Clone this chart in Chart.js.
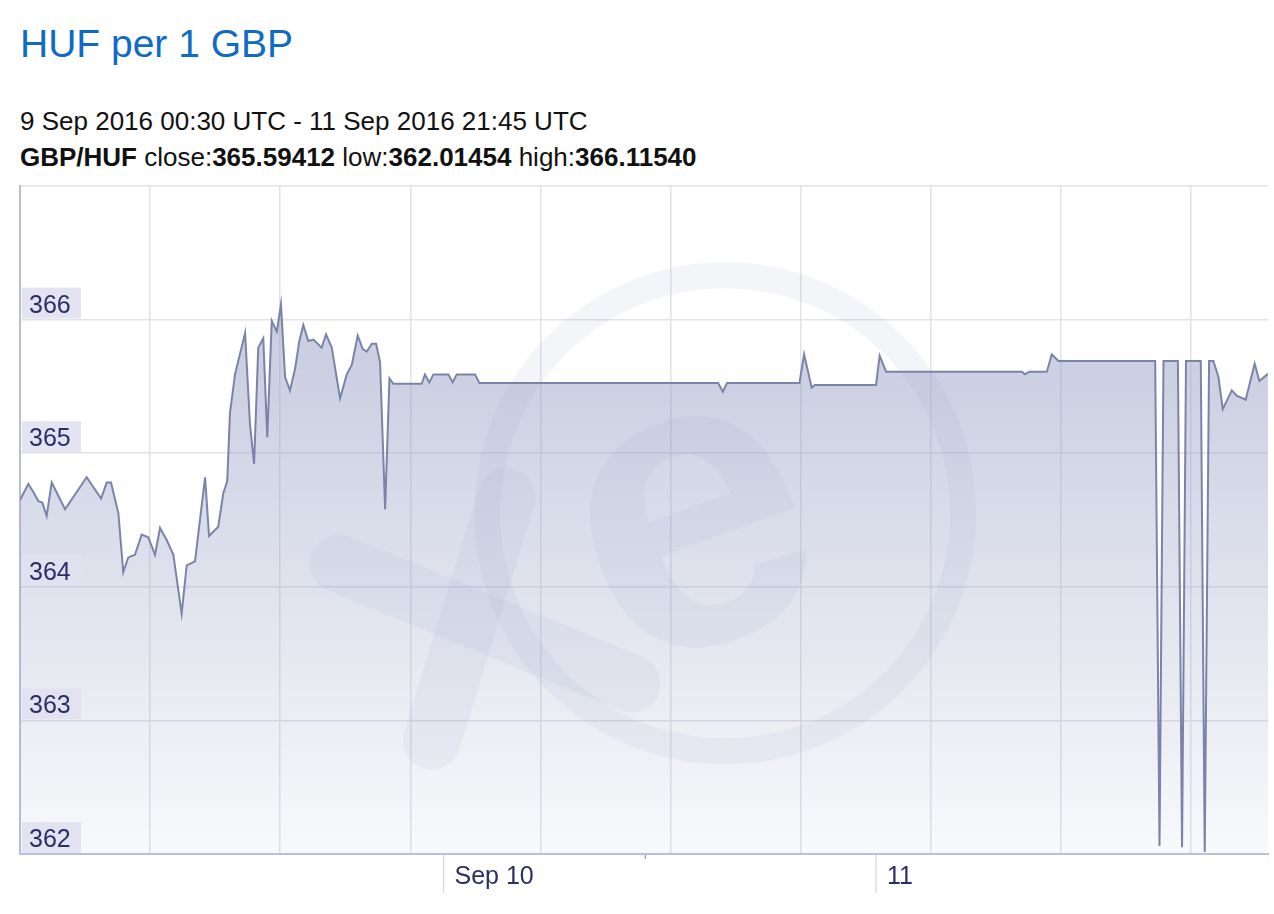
<!DOCTYPE html>
<html>
<head>
<meta charset="utf-8">
<title>HUF per 1 GBP</title>
<script src="https://cdn.jsdelivr.net/npm/chart.js@4.4.1/dist/chart.umd.min.js"></script>
<style>
  body { margin: 0; background: #fff; font-family: "Liberation Sans", Arial, Helvetica, sans-serif; }
  .txt { position: absolute; left: 20px; line-height: 1; white-space: nowrap; }
  #title { top: 24px; font-size: 39px; color: #0f6cc4; }
  #range { top: 108px; font-size: 26px; color: #111; }
  #stats { top: 144px; font-size: 26px; color: #111; }
  #wrap { position: absolute; left: 0; top: 180px; width: 1274px; height: 734px; }
</style>
</head>
<body>
<div id="title" class="txt">HUF per 1 GBP</div>
<div id="range" class="txt">9 Sep 2016 00:30 UTC - 11 Sep 2016 21:45 UTC</div>
<div id="stats" class="txt"><b>GBP/HUF</b> close:<b>365.59412</b> low:<b>362.01454</b> high:<b>366.11540</b></div>
<div id="wrap"><canvas id="myChart"></canvas></div>

<script>
// hours since 9 Sep 2016 00:00 UTC
const hours = [
  0.5, 0.96, 1.24, 1.52, 1.74, 1.98, 2.26, 3.0, 4.2, 5.0,
  5.31, 5.55, 5.96, 6.23, 6.51, 6.88, 7.25, 7.62, 7.99, 8.27,
  8.64, 9.01, 9.47, 9.75, 10.21, 10.77, 10.99, 11.5, 11.78, 12.0,
  12.15, 12.43, 12.99, 13.26, 13.49, 13.72, 14.0, 14.22, 14.47, 14.75,
  14.98, 15.21, 15.48, 15.76, 16.0, 16.22, 16.5, 16.78, 17.24, 17.48,
  17.8, 18.26, 18.63, 18.91, 19.24, 19.52, 19.74, 20.02, 20.26, 20.48,
  20.76, 21.0, 21.22, 22.79, 22.97, 23.21, 23.44, 24.27, 24.51, 24.73,
  25.75, 25.99, 39.24, 39.5, 39.73, 43.75, 44.01, 44.43, 44.6, 48.0,
  48.2, 48.56, 56.09, 56.27, 56.5, 57.48, 57.75, 58.12, 63.49, 63.73,
  63.95, 64.75, 64.98, 65.2, 66.02, 66.24, 66.48, 66.72, 67.0, 67.24,
  67.74, 68.02, 68.51, 69.01, 69.27, 69.75
];
const rates = [
  364.65, 364.77, 364.71, 364.64, 364.63, 364.53, 364.78, 364.58, 364.82, 364.66,
  364.78, 364.78, 364.55, 364.11, 364.22, 364.24, 364.39, 364.37, 364.24, 364.44,
  364.35, 364.24, 363.80, 364.16, 364.19, 364.82, 364.38, 364.45, 364.70, 364.79,
  365.30, 365.59, 365.90, 365.22, 364.92, 365.79, 365.86, 365.12, 365.99, 365.91,
  366.115, 365.57, 365.47, 365.63, 365.84, 365.96, 365.84, 365.85, 365.79, 365.89,
  365.79, 365.41, 365.59, 365.66, 365.88, 365.78, 365.76, 365.82, 365.82, 365.68,
  364.58, 365.56, 365.52, 365.52, 365.59, 365.53, 365.59, 365.59, 365.53, 365.59,
  365.59, 365.525, 365.525, 365.46, 365.525, 365.525, 365.74, 365.49, 365.51, 365.51,
  365.73, 365.61, 365.61, 365.59, 365.61, 365.61, 365.74, 365.69, 365.69, 362.06,
  365.69, 365.69, 362.05, 365.69, 365.69, 362.015, 365.69, 365.69, 365.57, 365.33,
  365.47, 365.43, 365.40, 365.67, 365.54, 365.594
];

const xTickHours = [24, 48];
const xTickLabels = ['Sep 10', '11'];
const minorTickHour = 35.2;
const yTicks = [362, 363, 364, 365, 366];
const xMin = 0.5, xMax = 69.75;
const yMin = 362, yMax = 367;
const gridCount = 10;
const gridStep = 7.22;

const navy = '#2b2f66';
const font = '"Liberation Sans", Arial, Helvetica, sans-serif';

const decor = {
  id: 'decor',
  beforeDatasetsDraw(chart) {
    // faint xe watermark
    const {ctx, chartArea: a} = chart;
    const w = a.right - a.left, h = a.bottom - a.top;
    ctx.save();
    ctx.strokeStyle = 'rgba(150,158,195,0.10)';
    ctx.lineWidth = 26;
    ctx.beginPath();
    ctx.arc(a.left + w * 0.565, a.top + h * 0.49, 238, 0, Math.PI * 2);
    ctx.stroke();
    ctx.fillStyle = 'rgba(150,158,195,0.10)';
    ctx.lineCap = 'round';
    ctx.lineWidth = 58;
    ctx.beginPath();
    ctx.moveTo(a.left + w * 0.255, a.top + h * 0.565);
    ctx.lineTo(a.left + w * 0.49, a.top + h * 0.745);
    ctx.stroke();
    ctx.beginPath();
    ctx.moveTo(a.left + w * 0.39, a.top + h * 0.465);
    ctx.lineTo(a.left + w * 0.33, a.top + h * 0.83);
    ctx.stroke();
    ctx.translate(a.left + w * 0.545, a.top + h * 0.54);
    ctx.rotate(-0.35);
    ctx.font = 'bold 420px ' + font;
    ctx.textAlign = 'center';
    ctx.textBaseline = 'middle';
    ctx.fillText('e', 0, -20);
    ctx.restore();
  },
  afterDatasetsDraw(chart) {
    const {ctx, chartArea: a, scales} = chart;
    ctx.save();
    // y labels sitting on their grid lines
    ctx.font = '25px ' + font;
    ctx.textBaseline = 'alphabetic';
    ctx.textAlign = 'left';
    yTicks.forEach(v => {
      const py = scales.y.getPixelForValue(v);
      ctx.fillStyle = 'rgba(226,226,240,0.95)';
      ctx.fillRect(a.left + 2, py - 32, 59, 31);
      ctx.fillStyle = navy;
      ctx.fillText(String(v), a.left + 9, py - 7);
    });
    // long ticks below the axis
    ctx.strokeStyle = '#dcdce4';
    ctx.lineWidth = 1.5;
    xTickHours.forEach(v => {
      const px = scales.x.getPixelForValue(v);
      ctx.beginPath();
      ctx.moveTo(px, a.bottom + 1);
      ctx.lineTo(px, a.bottom + 39);
      ctx.stroke();
    });
    const mx = scales.x.getPixelForValue(minorTickHour);
    ctx.strokeStyle = '#9ea3c4';
    ctx.beginPath();
    ctx.moveTo(mx, a.bottom + 1);
    ctx.lineTo(mx, a.bottom + 5);
    ctx.stroke();
    ctx.restore();
  }
};

function fillGradient(context) {
  const area = context.chart.chartArea;
  if (!area) return 'rgba(150,158,195,0.4)';
  const g = context.chart.ctx.createLinearGradient(0, area.top, 0, area.bottom);
  g.addColorStop(0, 'rgba(150,158,195,0.55)');
  g.addColorStop(0.3, 'rgba(150,158,195,0.48)');
  g.addColorStop(1, 'rgba(150,158,195,0.06)');
  return g;
}

function initChart() {
  const ctx = document.getElementById('myChart');
  return new Chart(ctx, {
    type: 'line',
    data: {
      datasets: [{
        label: 'GBP/HUF',
        data: hours.map((h, i) => ({x: h, y: rates[i]})),
        borderColor: '#7a84ab',
        borderWidth: 2,
        backgroundColor: fillGradient,
        fill: 'start',
        pointRadius: 0,
        tension: 0
      }]
    },
    plugins: [decor],
    options: {
      responsive: true,
      maintainAspectRatio: false,
      animation: false,
      layout: { autoPadding: false, padding: { left: 20, right: 6, top: 6, bottom: 0 } },
      plugins: { legend: { display: false }, tooltip: { enabled: false } },
      scales: {
        x: {
          type: 'linear',
          position: 'bottom',
          min: xMin,
          max: xMax,
          afterBuildTicks: s => { s.ticks = xTickHours.map(v => ({value: v})); },
          afterFit: s => { s.height = 60; },
          ticks: {
            autoSkip: false,
            maxRotation: 0,
            align: 'start',
            labelOffset: 11,
            padding: 8,
            color: navy,
            font: { size: 25, family: font },
            callback: v => xTickLabels[xTickHours.indexOf(v)]
          },
          grid: { drawOnChartArea: false, drawTicks: false },
          border: { color: '#bcc0dc', width: 2 }
        },
        xg: {
          type: 'linear',
          position: 'bottom',
          min: xMin,
          max: xMax,
          afterBuildTicks: s => {
            const t = [];
            for (let k = 0; k < gridCount; k++) t.push({value: xMin + k * gridStep});
            s.ticks = t;
          },
          afterFit: s => { s.height = 0; },
          ticks: { display: false },
          grid: { color: '#e2e2e8', lineWidth: 1.5, drawTicks: false },
          border: { display: false }
        },
        y: {
          type: 'linear',
          min: yMin,
          max: yMax,
          afterFit: s => { s.width = 0; },
          ticks: { display: false, stepSize: 1 },
          grid: { color: '#e2e2e8', lineWidth: 1.5, drawTicks: false },
          border: { color: '#b8bcda', width: 2 }
        }
      }
    }
  });
}

document.addEventListener('DOMContentLoaded', () => initChart());
</script>
</body>
</html>
